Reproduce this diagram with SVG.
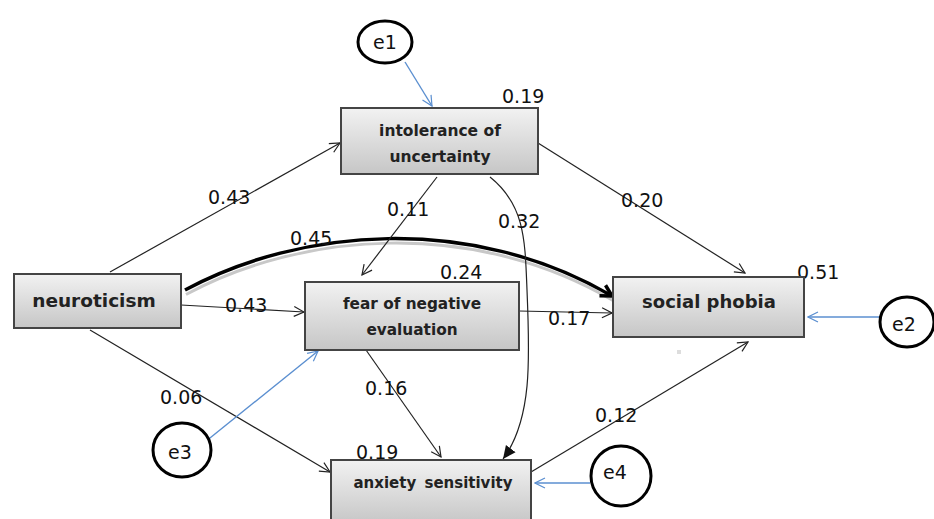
<svg xmlns="http://www.w3.org/2000/svg" width="934" height="519" viewBox="0 0 934 519">
<defs>
<linearGradient id="g" x1="0" y1="0" x2="0" y2="1">
<stop offset="0" stop-color="#f2f2f2"/>
<stop offset="1" stop-color="#c6c6c6"/>
</linearGradient>
<marker id="a" viewBox="0 0 12 12" refX="11" refY="6" markerWidth="12" markerHeight="12" markerUnits="userSpaceOnUse" orient="auto">
<path d="M1,1 L11,6 L1,11" fill="none" stroke="#222" stroke-width="1.2"/>
</marker>
<marker id="b" viewBox="0 0 12 12" refX="11" refY="6" markerWidth="12" markerHeight="12" markerUnits="userSpaceOnUse" orient="auto">
<path d="M1,1 L11,6 L1,11" fill="none" stroke="#5b8fd0" stroke-width="1.2"/>
</marker>
<marker id="f" viewBox="0 0 14 14" refX="13" refY="7" markerWidth="14" markerHeight="14" markerUnits="userSpaceOnUse" orient="auto">
<path d="M0,1 L13,7 L0,13 Z" fill="#111"/>
</marker>
<marker id="t" viewBox="0 0 16 16" refX="13" refY="8" markerWidth="16" markerHeight="16" markerUnits="userSpaceOnUse" orient="auto">
<path d="M2,2 L13,8 L2,14" fill="none" stroke="#000" stroke-width="3.5" stroke-linejoin="miter"/>
</marker>
</defs>
<style>
.box{fill:url(#g);stroke:#444;stroke-width:2}
.nt{font-family:"DejaVu Sans",sans-serif;font-weight:bold;fill:#222;text-anchor:middle}
.lb{font-family:"DejaVu Sans",sans-serif;font-size:19px;fill:#111}
.ln{fill:none;stroke:#222;stroke-width:1.2}
.bl{fill:none;stroke:#5b8fd0;stroke-width:1.4}
.el{fill:#fff;stroke:#000;stroke-width:3}
.et{font-family:"DejaVu Sans",sans-serif;font-size:19px;fill:#111;text-anchor:middle}
</style>
<rect width="934" height="519" fill="#fff"/>
<rect x="677" y="350" width="4" height="4" fill="#ddd"/>

<g id="connectors">
<path class="ln" d="M110,272 L340,143" marker-end="url(#a)"/>
<path class="ln" d="M181,305 L304,312" marker-end="url(#a)"/>
<path class="ln" d="M90,330 L330,472" marker-end="url(#a)"/>
<path d="M185,292 C300,230 470,215 612,298" fill="none" stroke="#c8c8c8" stroke-width="3" transform="translate(1,2.5)"/>
<path d="M185,290 C300,228 470,213 612,296" fill="none" stroke="#000" stroke-width="3.5" marker-end="url(#t)"/>
<path class="ln" d="M437,177 L362,275" marker-end="url(#a)"/>
<path class="ln" d="M538,143 L745,273" marker-end="url(#a)"/>
<path class="ln" d="M490,177 C525,205 525,240 527,290 C530,360 532,420 503,459" marker-end="url(#f)"/>
<path class="ln" d="M519,311 L612,313" marker-end="url(#a)"/>
<path class="ln" d="M366,350 L441,457" marker-end="url(#a)"/>
<path class="ln" d="M531,472 L748,342" marker-end="url(#a)"/>
<path class="bl" d="M405,62 L432,106" marker-end="url(#b)"/>
<path class="bl" d="M880,317 L808,317" marker-end="url(#b)"/>
<path class="bl" d="M205,442 L318,351" marker-end="url(#b)"/>
<path class="bl" d="M590,483 L535,483" marker-end="url(#b)"/>
</g>

<g id="labels">
<text class="lb" x="208" y="204">0.43</text>
<text class="lb" x="225" y="312">0.43</text>
<text class="lb" x="160" y="404">0.06</text>
<text class="lb" x="290" y="245">0.45</text>
<text class="lb" x="387" y="216">0.11</text>
<text class="lb" x="621" y="207">0.20</text>
<text class="lb" x="498" y="228">0.32</text>
<text class="lb" x="548" y="325">0.17</text>
<text class="lb" x="365" y="395">0.16</text>
<text class="lb" x="595" y="422">0.12</text>
<text class="lb" x="502" y="103">0.19</text>
<text class="lb" x="440" y="279">0.24</text>
<text class="lb" x="797" y="279">0.51</text>
<text class="lb" x="356" y="459">0.19</text>
</g>

<g id="neuroticism">
<rect class="box" x="14" y="274" width="167" height="54"/>
<text class="nt" x="94" y="307" font-size="18.5">neuroticism</text>
</g>
<g id="intolerance">
<rect class="box" x="341" y="108" width="197" height="66"/>
<text class="nt" x="440" y="136" font-size="15.5">intolerance of</text>
<text class="nt" x="440" y="162" font-size="15.5">uncertainty</text>
</g>
<g id="fear">
<rect class="box" x="305" y="282" width="214" height="68"/>
<text class="nt" x="412" y="309" font-size="15.3">fear of negative</text>
<text class="nt" x="412" y="335" font-size="15.3">evaluation</text>
</g>
<g id="socialphobia">
<rect class="box" x="613" y="277" width="191" height="60"/>
<text class="nt" x="709" y="308" font-size="18">social phobia</text>
</g>
<g id="anxiety">
<rect class="box" x="331" y="460" width="200" height="64"/>
<text class="nt" x="433" y="488" font-size="15" word-spacing="3">anxiety sensitivity</text>
</g>
<g id="e1">
<ellipse class="el" cx="385" cy="42" rx="27" ry="21"/>
<text class="et" x="385" y="49">e1</text>
</g>
<g id="e2">
<ellipse class="el" cx="907" cy="322" rx="27" ry="25"/>
<text class="et" x="904" y="331">e2</text>
</g>
<g id="e3">
<ellipse class="el" cx="182" cy="450" rx="29" ry="27"/>
<text class="et" x="180" y="459">e3</text>
</g>
<g id="e4">
<ellipse class="el" cx="621" cy="476" rx="30" ry="30"/>
<text class="et" x="615" y="479">e4</text>
</g>
</svg>
